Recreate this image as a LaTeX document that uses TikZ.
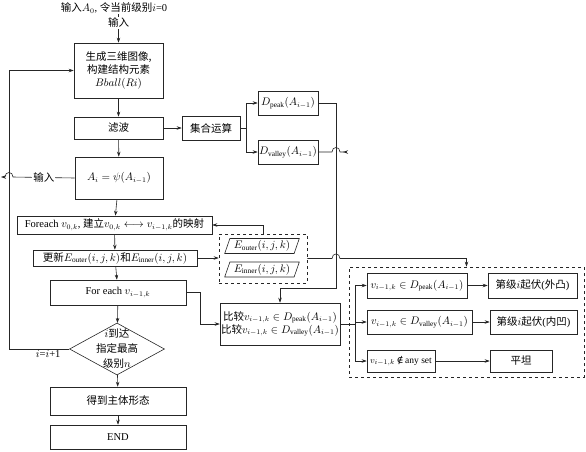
\documentclass[tikz,border=0pt]{standalone}
\usepackage{amsmath}
\usepackage{amssymb}
\usepackage{fontspec}
\setmainfont{Liberation Serif}
\newfontfamily\cjk{Noto Sans CJK SC}
\newfontfamily\symf{DejaVu Serif}
\newcommand{\zh}[1]{{\cjk #1}}
\usetikzlibrary{arrows.meta, shapes.geometric}

\begin{document}
\begin{tikzpicture}[
    x=1pt, y=-1pt,
    font=\fontsize{10.5}{13}\selectfont,
    box/.style={draw=black!85, line width=0.6pt, fill=white, align=center, inner sep=1pt},
    dashbox/.style={draw=black!85, line width=0.6pt, dashed, inner sep=0pt},
    para/.style={draw=black!85, line width=0.6pt, trapezium, trapezium left angle=70,
        trapezium right angle=110, trapezium stretches=true, inner sep=1pt,
        minimum width=75, minimum height=15},
    decision/.style={draw=black!85, line width=0.6pt, diamond, inner sep=0pt,
        minimum width=95, minimum height=52},
    txt/.style={inner sep=1pt, align=center},
    link/.style={draw=black!85, line width=0.6pt},
    arr/.style={link, -{Stealth[length=5pt, width=3.5pt]}}
]
\useasboundingbox (0,0) rectangle (586,451);

% --- Main column ---
\node[txt] (start) at (114,8) {\zh{输入}$A_0$, \zh{令当前级别}$i$=0};
\node[box, minimum width=89, minimum height=55] (b1) at (118.5,70.5)
    {\zh{生成三维图像,}\\\zh{构建结构元素}\\$Bball(Ri)$};
\node[box, minimum width=89, minimum height=22] (filter) at (118.5,128) {\zh{滤波}};
\node[box, minimum width=88, minimum height=42] (ai) at (119,178) {$A_i = \psi(A_{i-1})$};
\node[box, minimum width=195, minimum height=18] (foreach) at (114.5,225)
    {Foreach $v_{0,k}$, \zh{建立}$v_{0,k}\longleftrightarrow v_{i-1,k}$\zh{的映射}};
\node[box, minimum width=164, minimum height=16] (update) at (115,258)
    {\zh{更新}$E_{\mathrm{outer}}(i,j,k)$\zh{和}$E_{\mathrm{inner}}(i,j,k)$};
\node[box, minimum width=136, minimum height=25] (foreachv) at (118,292.5) {For each $v_{i-1,k}$};
\node[decision] (dia) at (117,349) {};
\node[txt, font=\fontsize{10.5}{15}\selectfont] (diatext) at (dia)
    {$i$\zh{到达}\\\zh{指定最高}\\\zh{级别}$n$};
\node[box, minimum width=136, minimum height=28] (result) at (118,401) {\zh{得到主体形态}};
\node[box, minimum width=136, minimum height=24] (end) at (118,437) {END};

% --- Set operation branch ---
\node[box, minimum width=58, minimum height=24] (setop) at (211,128) {\zh{集合运算}};
\node[box, minimum width=60, minimum height=24] (dpeak) at (288,103) {$D_{\mathrm{peak}}(A_{i-1})$};
\node[box, minimum width=60, minimum height=24] (dvalley) at (288,152) {$D_{\mathrm{valley}}(A_{i-1})$};
\coordinate (sbr) at (246,128);

% --- Energy group ---
\node[dashbox, minimum width=88, minimum height=49] (egroup) at (263,258.5) {};
\node[para] (eouter) at (262,246) {$E_{\mathrm{outer}}(i,j,k)$};
\node[para] (einner) at (262,269.5) {$E_{\mathrm{inner}}(i,j,k)$};

% --- Comparison ---
\node[box, minimum width=114, minimum height=42] (compare) at (280,324)
    {\zh{比较}$v_{i-1,k}\in D_{\mathrm{peak}}(A_{i-1})$\\\zh{比较}$v_{i-1,k}\in D_{\mathrm{valley}}(A_{i-1})$};
\node[dashbox, minimum width=235, minimum height=110] (bigbox) at (466.5,322) {};
\node[box, minimum width=100, minimum height=25] (c1) at (417,285.5) {$v_{i-1,k}\in D_{\mathrm{peak}}(A_{i-1})$};
\node[box, minimum width=105, minimum height=24] (c2) at (419.5,322) {$v_{i-1,k}\in D_{\mathrm{valley}}(A_{i-1})$};
\node[box, minimum width=68, minimum height=22, inner sep=0pt, font=\fontsize{9.5}{11}\selectfont] (c3) at (401,361)
    {$v_{i-1,k}$\,{\symf ∉}\,any set};
\node[box, minimum width=89, minimum height=25] (r1) at (532.5,285.5) {\zh{第级}$i$\zh{起伏}(\zh{外凸})};
\node[box, minimum width=87, minimum height=24] (r2) at (533.5,322) {\zh{第级}$i$\zh{起伏}(\zh{内凹})};
\node[box, minimum width=62, minimum height=22] (r3) at (521,361) {\zh{平坦}};
\coordinate (brtop) at (355,285.5);
\coordinate (brbot) at (355,361);

% --- Main flow ---
\draw[arr] (b1.north |- start.south) -- node[txt, fill=white, pos=0.3] (inlabel) {\zh{输入}} (b1.north);
\draw[arr] (b1) -- (filter);
\draw[arr] (filter) -- (ai);
\draw[arr] (ai) -- (foreach);
\draw[arr] (foreach) -- (update);
\draw[arr] (update) -- (foreachv);
\draw[arr] (foreachv) -- (dia);
\draw[arr] (dia) -- (result);
\draw[arr] (result) -- (end);

% loop back
\draw[arr] (dia.west) -- node[txt, below, pos=0.35] (incr) {$i$=$i$+1} (9,349) |- (b1.west);
\draw[arr] (ai.west) -- node[txt, fill=white] (inlabel2) {\zh{输入}} (13,177)
    .. controls (13,171) and (5,171) .. (5,177) -- (1,177);

% --- Set operation ---
\draw[arr] (filter) -- (setop);
\draw[link] (setop.east) -- (sbr);
\draw[arr] (sbr) |- (dpeak.west);
\draw[arr] (sbr) |- (dvalley.west);
\draw[arr] (dpeak.east) -| (336,288) -| (compare.north);
\draw[link, -{Stealth[length=5pt, width=3.5pt, reversed]}] (dvalley.east) -- (332,152)
    .. controls (332,146) and (340,146) .. (340,152) -- (348,152);

% --- Energy terms ---
\draw[arr] (update.east) -- (update.east -| egroup.west);
\draw[arr] (egroup.north) |- (foreach.east);
\draw[arr] (egroup.east) -- (332,258.5) .. controls (332,252.5) and (340,252.5) .. (340,258.5) -| (bigbox.north);

% --- Comparison and results ---
\draw[arr] (foreachv.east) -- (200,292.5) |- (compare.west);
\draw[link] (compare.east) -- (compare.east -| brtop);
\draw[link] (brtop) -- (brbot);
\draw[arr] (brtop) -- (c1.west);
\draw[arr] (c2.west -| brtop) -- (c2.west);
\draw[arr] (brbot) -- (c3.west);
\draw[arr] (c1) -- (r1);
\draw[arr] (c2) -- (r2);
\draw[arr] (c3) -- (r3);

\end{tikzpicture}
\end{document}
